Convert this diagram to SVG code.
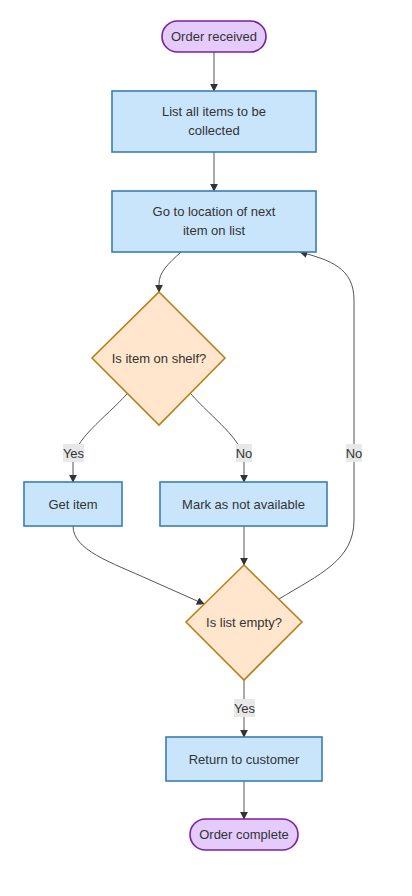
<svg xmlns="http://www.w3.org/2000/svg" width="412" height="896" viewBox="0 0 412 896">
<style>
text{font-family:"Liberation Sans",Arial,sans-serif;font-size:13px;fill:#333;text-anchor:middle;dominant-baseline:central}
.proc{fill:#c9e5fb;stroke:#3a7db5;stroke-width:1.6}
.dec{fill:#ffe6cc;stroke:#b8801a;stroke-width:1.6}
.term{fill:#e4cbfb;stroke:#7a1fa2;stroke-width:1.6}
.edge{fill:none;stroke:#555;stroke-width:1}
.lbl{fill:#e8e8e8;stroke:none}
</style>
<defs>
<marker id="arr" viewBox="0 0 10 10" refX="9" refY="5" markerWidth="8" markerHeight="8" markerUnits="userSpaceOnUse" orient="auto">
<path d="M0,0 L10,5 L0,10 z" fill="#333"/>
</marker>
</defs>
<rect width="412" height="896" fill="#fff"/>
<g id="edges">
<path class="edge" d="M214,52 L214,91" marker-end="url(#arr)"/>
<path class="edge" d="M214,152 L214,191" marker-end="url(#arr)"/>
<path class="edge" d="M181,252 C168,264 159,272 159,284 L159,292" marker-end="url(#arr)"/>
<path class="edge" d="M127,394 C105,418 73,440 73,462 L73,482" marker-end="url(#arr)"/>
<path class="edge" d="M191,394 C212,418 244,440 244,462 L244,482" marker-end="url(#arr)"/>
<path class="edge" d="M73,526 C73,550 110,562 150,580 L204,604" marker-end="url(#arr)"/>
<path class="edge" d="M244,526 L244,565" marker-end="url(#arr)"/>
<path class="edge" d="M279,599 C320,574 354,560 354,520 L354,300 C354,268 330,260 300,252" marker-end="url(#arr)"/>
<path class="edge" d="M244,680 L244,737" marker-end="url(#arr)"/>
<path class="edge" d="M244,781 L244,819" marker-end="url(#arr)"/>
<g id="lbl-yes1"><rect class="lbl" x="63" y="444" width="21" height="18"/><text x="73.5" y="453">Yes</text></g>
<g id="lbl-no1"><rect class="lbl" x="236" y="444" width="16" height="18"/><text x="244" y="453">No</text></g>
<g id="lbl-no2"><rect class="lbl" x="346" y="444" width="16" height="18"/><text x="354" y="453">No</text></g>
<g id="lbl-yes2"><rect class="lbl" x="234" y="699" width="21" height="18"/><text x="244.5" y="708">Yes</text></g>
</g>
<g id="order-received"><rect class="term" x="162" y="21" width="104" height="31" rx="15.5"/><text x="214" y="36.5">Order received</text></g>
<g id="list-items"><rect class="proc" x="112" y="91" width="204" height="61"/><text x="214" y="111">List all items to be</text><text x="214" y="130">collected</text></g>
<g id="go-to-location"><rect class="proc" x="112" y="191" width="204" height="61"/><text x="214" y="211">Go to location of next</text><text x="214" y="230">item on list</text></g>
<g id="is-on-shelf"><polygon class="dec" points="159,292 225,358 159,425 92,358"/><text x="159" y="358">Is item on shelf?</text></g>
<g id="get-item"><rect class="proc" x="24" y="482" width="98" height="44"/><text x="73" y="504">Get item</text></g>
<g id="mark-na"><rect class="proc" x="160" y="482" width="167" height="44"/><text x="243.5" y="504">Mark as not available</text></g>
<g id="is-list-empty"><polygon class="dec" points="244,565 302,622 244,680 186,622"/><text x="244" y="622">Is list empty?</text></g>
<g id="return-customer"><rect class="proc" x="166" y="737" width="156" height="44"/><text x="244" y="759">Return to customer</text></g>
<g id="order-complete"><rect class="term" x="190" y="819" width="108" height="31" rx="15.5"/><text x="244" y="834.5">Order complete</text></g>
</svg>
